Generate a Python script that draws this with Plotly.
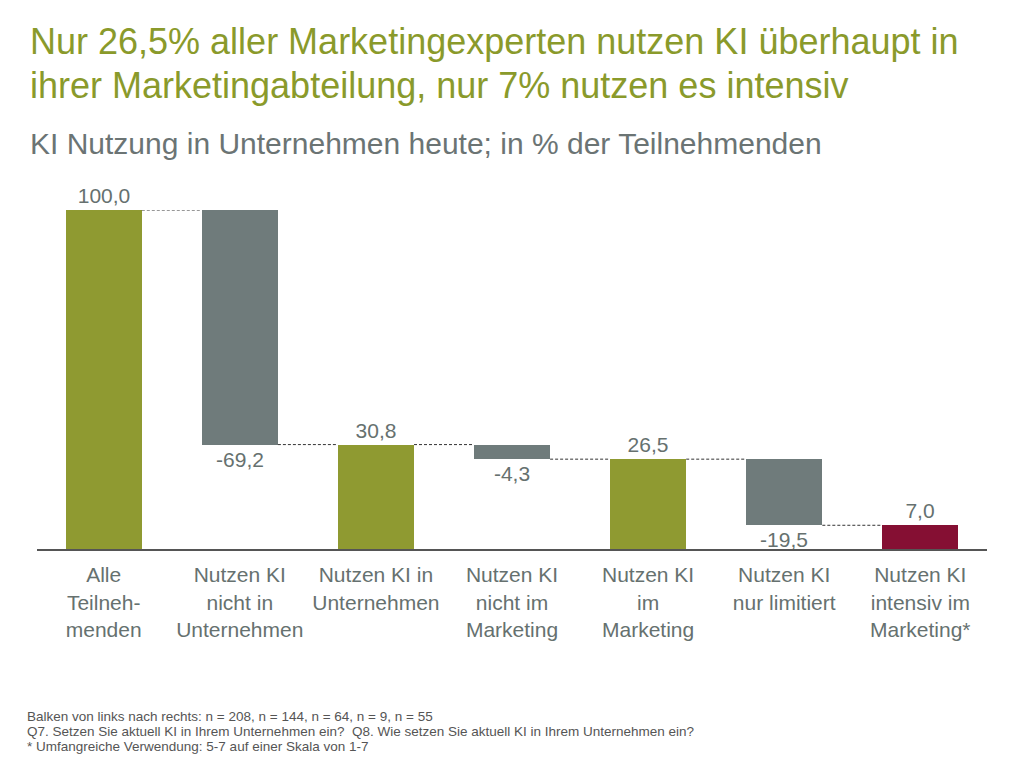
import plotly.graph_objects as go

# Daten: KI Nutzung, in % der Teilnehmenden
categories = [
    "Alle<br>Teilneh-<br>menden",
    "Nutzen KI<br>nicht in<br>Unternehmen",
    "Nutzen KI in<br>Unternehmen",
    "Nutzen KI<br>nicht im<br>Marketing",
    "Nutzen KI<br>im<br>Marketing",
    "Nutzen KI<br>nur limitiert",
    "Nutzen KI<br>intensiv im<br>Marketing*",
]
values = [100.0, -69.2, 30.8, -4.3, 26.5, -19.5, 7.0]
is_total = [True, False, True, False, True, False, True]

title_lines = [
    "Nur 26,5% aller Marketingexperten nutzen KI überhaupt in",
    "ihrer Marketingabteilung, nur 7% nutzen es intensiv",
]
subtitle = "KI Nutzung in Unternehmen heute; in % der Teilnehmenden"
footnotes = [
    "Balken von links nach rechts: n = 208, n = 144, n = 64, n = 9, n = 55",
    "Q7. Setzen Sie aktuell KI in Ihrem Unternehmen ein?  Q8. Wie setzen Sie aktuell KI in Ihrem Unternehmen ein?",
    "* Umfangreiche Verwendung: 5-7 auf einer Skala von 1-7",
]

GREEN = "#8f9a31"
GREY = "#6f7b7b"
RED = "#850f33"
TEXT_GREY = "#66716f"

# Basis der Balken aus dem laufenden Stand
bases = []
level = 0.0
for v, tot in zip(values, is_total):
    if tot:
        bases.append(0.0)
        level = v
    else:
        bases.append(level)
        level = level + v

colors = [GREEN if t else GREY for t in is_total]
colors[-1] = RED

x_pos = list(range(len(categories)))
bar_width = 0.56

fig = go.Figure()

fig.add_trace(go.Bar(
    x=x_pos,
    y=values,
    base=bases,
    width=bar_width,
    marker=dict(color=colors, line=dict(width=0)),
    texttemplate="%{y:.1f}",
    textposition="outside",
    textfont=dict(size=21, color=TEXT_GREY),
    cliponaxis=False,
    showlegend=False,
))

# gestrichelte Verbindungslinien zwischen den Balken
for i in range(len(values) - 1):
    end_level = bases[i] + values[i]
    fig.add_trace(go.Scatter(
        x=[x_pos[i] + bar_width / 2, x_pos[i + 1] - bar_width / 2],
        y=[end_level, end_level],
        mode="lines",
        line=dict(color="#333333", width=1, dash="3px,2px"),
        hoverinfo="skip",
        showlegend=False,
    ))

fig.update_layout(
    width=1014,
    height=758,
    margin=dict(l=37, r=27, t=210, b=209),
    plot_bgcolor="white",
    paper_bgcolor="white",
    separators=",.",
    font=dict(family="Liberation Sans, Arial, sans-serif", color=TEXT_GREY),
    bargap=0,
)

fig.update_xaxes(
    range=[-0.49, 6.49],
    tickmode="array",
    tickvals=x_pos,
    ticktext=categories,
    tickfont=dict(size=21, color=TEXT_GREY),
    showline=True,
    linecolor="#555555",
    linewidth=2,
    showgrid=False,
    zeroline=False,
    ticks="",
    ticklabelstandoff=6,
)
fig.update_yaxes(
    range=[0, 100],
    visible=False,
    showgrid=False,
    zeroline=False,
)


def py(pixel):
    # Pixel (von oben) -> Papierkoordinate
    return (549 - pixel) / 339


def px_(pixel):
    return (pixel - 37) / 950


for line, y in zip(title_lines, [42, 85]):
    fig.add_annotation(
        text=line, xref="paper", yref="paper",
        x=px_(28), y=py(y), xanchor="left", yanchor="middle",
        showarrow=False, font=dict(size=36, color="#8a9a2b"),
    )

fig.add_annotation(
    text=subtitle, xref="paper", yref="paper",
    x=px_(28), y=py(143), xanchor="left", yanchor="middle",
    showarrow=False, font=dict(size=30, color="#6b7474"),
)

for line, y in zip(footnotes, [716, 731, 746]):
    fig.add_annotation(
        text=line, xref="paper", yref="paper",
        x=px_(25), y=py(y), xanchor="left", yanchor="middle",
        showarrow=False, font=dict(size=13.5, color="#555555"),
    )

fig.write_html(
    "out.html",
    config={"displayModeBar": False},
    post_script="document.body.style.margin='0';",
)
